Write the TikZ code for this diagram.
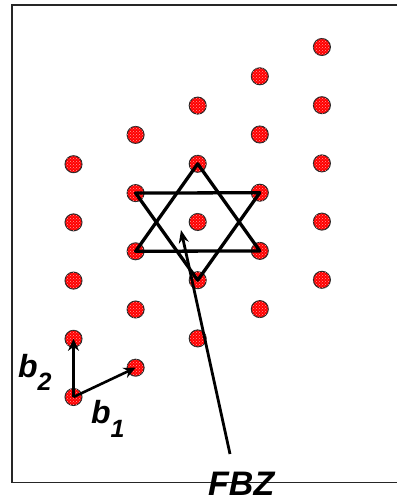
\documentclass[tikz,border=0pt]{standalone}
\usepackage{fontspec}
\setmainfont{Liberation Sans}
\usetikzlibrary{arrows.meta,patterns}
\begin{document}
\begin{tikzpicture}[x=1pt,y=-1pt,
  site/.style={circle,draw=black!85,line width=1pt,fill=red,minimum size=17pt,inner sep=0pt,
    postaction={pattern=crosshatch dots,pattern color=white!60!red}},
  starline/.style={line width=3.3pt,line join=round,line cap=round},
  vec/.style={line width=2.6pt,-{Stealth[length=12pt,width=11pt]}},
  lbl/.style={font=\fontsize{32}{32}\selectfont\bfseries\itshape,inner sep=0pt,anchor=base west}]
\useasboundingbox (0,0) rectangle (397,502);
\draw[line width=1.3pt,black!85] (397,5) -- (12,5) -- (12,482.7) -- (397,482.7);
\foreach \i in {0,...,4}{
  \foreach \j in {0,...,4}{
    \node[site] (p\i\j) at ({73.5+62.1*\i},{397-29.3*\i-58.2*\j}) {};
  }
}
\draw[starline] (p23.center) -- (p12.center) -- (p31.center) -- cycle;
\draw[starline] (p13.center) -- (p32.center) -- (p21.center) -- cycle;
\draw[vec] (p00.center) -- (p10.center);
\draw[vec] (p00.center) -- (p01.center);
\coordinate (tail) at (230,454);
\coordinate (head) at (181,230);
\draw[line width=2.8pt,-{Stealth[length=13pt,width=10pt]}] (tail) -- (head);
\node[lbl] (b2) at (18,377) {b\raisebox{-13pt}{\fontsize{25}{25}\selectfont 2}};
\node[lbl] (b1) at (91,423) {b\raisebox{-14pt}{\fontsize{25}{25}\selectfont 1}};
\node[lbl,font=\fontsize{34}{34}\selectfont\bfseries\itshape,text depth=0pt] (fbz) at (208,495) {FBZ};
\end{tikzpicture}
\end{document}
